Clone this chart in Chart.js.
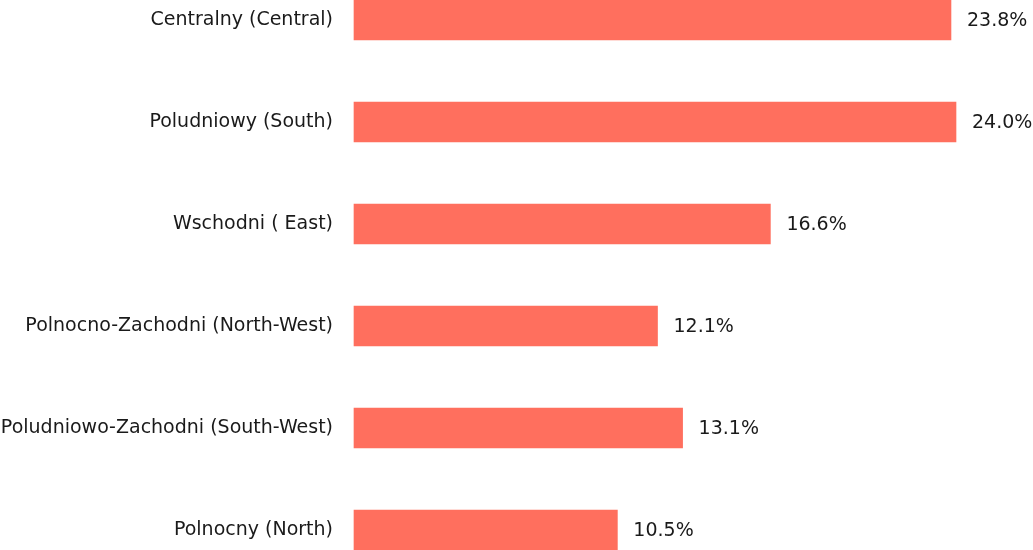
<!DOCTYPE html>
<html>
<head>
<meta charset="utf-8">
<script src="https://cdn.jsdelivr.net/npm/chart.js@4/dist/chart.umd.min.js"></script>
<style>
  html, body { margin: 0; padding: 0; background: #fff; }
  #wrap { width: 1033px; height: 550px; }
</style>
</head>
<body>
<div id="wrap"><canvas id="regions_chart"></canvas></div>
<script>
const regionLabels = [
    'Centralny (Central)',
    'Poludniowy (South)',
    'Wschodni ( East)',
    'Polnocno-Zachodni (North-West)',
    'Poludniowo-Zachodni (South-West)',
    'Polnocny (North)'
];
const regionShares = [23.8, 24.0, 16.6, 12.1, 13.1, 10.5];

const textColor = '#1a1a1a';
const fontFamily = 'Tahoma, "DejaVu Sans", sans-serif';

// draws the "xx.x%" labels to the right of each bar
const valueLabels = {
    id: 'valueLabels',
    afterDatasetsDraw(chart) {
        const c = chart.ctx;
        const meta = chart.getDatasetMeta(0);
        c.save();
        c.font = '19px ' + fontFamily;
        c.fillStyle = textColor;
        c.textAlign = 'left';
        c.textBaseline = 'middle';
        meta.data.forEach((bar, i) => {
            const v = chart.data.datasets[0].data[i];
            c.fillText(v.toFixed(1) + '%', bar.x + 16, bar.y + 1);
        });
        c.restore();
    }
};

const ctx = document.getElementById('regions_chart');

new Chart(ctx, {
    type: 'bar',
    data: {
        labels: regionLabels,
        datasets: [{
            data: regionShares,
            backgroundColor: '#FF6F5E',
            borderWidth: 0,
            barThickness: 40,
            clip: false,
        }]
    },
    options: {
        indexAxis: 'y',
        responsive: true,
        maintainAspectRatio: false,
        animation: false,
        layout: {
            padding: { top: 20, bottom: 20, left: 0, right: 0 }
        },
        plugins: {
            legend: { display: false },
            tooltip: { enabled: false }
        },
        scales: {
            x: {
                display: false,
                min: 0,
                max: 27.07
            },
            y: {
                offset: false,
                grid: { display: false },
                border: { display: false },
                afterFit(scale) {
                    scale.width = 354;
                    scale.paddingTop = 0;
                    scale.paddingBottom = 0;
                },
                ticks: {
                    padding: 13,
                    color: textColor,
                    font: { family: fontFamily, size: 19 }
                }
            }
        }
    },
    plugins: [valueLabels]
});
</script>
</body>
</html>
